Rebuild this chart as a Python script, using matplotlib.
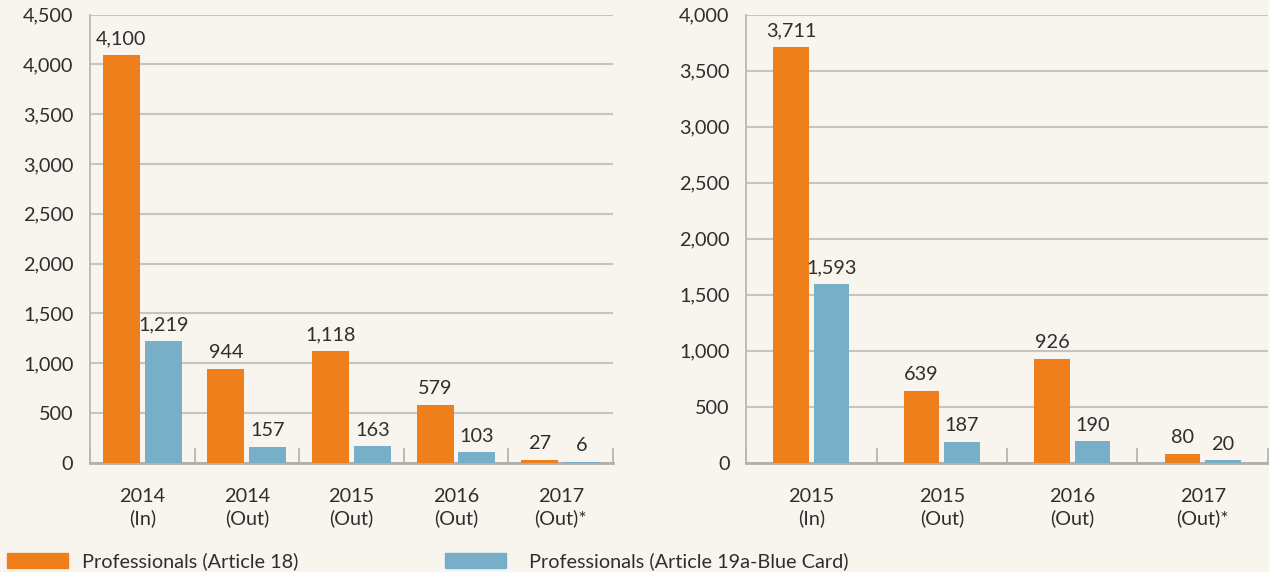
import numpy as np
import matplotlib.pyplot as plt
from matplotlib.patches import Patch

plt.rcParams['font.family'] = ['Lato', 'DejaVu Sans']

# left panel
left_cats = ['2014\n(In)', '2014\n(Out)', '2015\n(Out)', '2016\n(Out)', '2017\n(Out)*']
left_art18 = [4100, 944, 1118, 579, 27]
left_art19a = [1219, 157, 163, 103, 6]

# right panel
right_cats = ['2015\n(In)', '2015\n(Out)', '2016\n(Out)', '2017\n(Out)*']
right_art18 = [3711, 639, 926, 80]
right_art19a = [1593, 187, 190, 20]

orange = '#ee7f1a'
blue = '#79aec9'
bg = '#f8f5ee'
grid_col = '#c4c4c4'
text_col = '#2e2e2e'
fs = 14.3

fig = plt.figure(figsize=(12.69, 5.72), dpi=100, facecolor=bg)
ax1 = fig.add_axes([0.0709, 0.1911, 0.4121, 0.7832])
ax2 = fig.add_axes([0.5879, 0.1911, 0.4113, 0.7832])


def draw(ax, cats, a, b, ymax, width, off):
    x = np.arange(len(cats))
    ax.set_facecolor(bg)
    r1 = ax.bar(x - off, a, width, color=orange, zorder=3)
    r2 = ax.bar(x + off, b, width, color=blue, zorder=3)
    for rects, vals in ((r1, a), (r2, b)):
        for r, v in zip(rects, vals):
            ax.annotate(f'{v:,}', (r.get_x() + r.get_width() / 2, r.get_height()),
                        xytext=(0, 5.5), textcoords='offset points',
                        ha='center', va='bottom', fontsize=fs, color=text_col)
    ax.set_xlim(-0.5, len(cats) - 0.5)
    ax.set_ylim(0, ymax)
    ax.set_yticks(np.arange(0, ymax + 1, 500))
    ax.set_yticklabels([f'{int(t):,}' for t in np.arange(0, ymax + 1, 500)])
    ax.yaxis.grid(True, color=grid_col, linewidth=1.5, zorder=0)
    ax.set_axisbelow(True)
    ax.tick_params(axis='y', length=0, pad=12, labelsize=fs, labelcolor=text_col)
    # separators between groups as inward ticks, labels on minor ticks
    ax.set_xticks(np.arange(-0.5, len(cats), 1.0))
    ax.set_xticklabels([])
    ax.set_xticks(x, minor=True)
    ax.set_xticklabels(cats, minor=True, linespacing=1.3)
    ax.tick_params(axis='x', which='major', direction='in', length=11, width=1.2, color='#b0b0b0')
    ax.tick_params(axis='x', which='minor', length=0, pad=18, labelsize=fs, labelcolor=text_col)
    for s in ('top', 'right'):
        ax.spines[s].set_visible(False)
    ax.spines['left'].set_color('#b8b8b8')
    ax.spines['left'].set_linewidth(1.3)
    ax.spines['bottom'].set_color('#b0b0b0')
    ax.spines['bottom'].set_linewidth(2)


draw(ax1, left_cats, left_art18, left_art19a, 4500, 0.354, 0.2)
draw(ax2, right_cats, right_art18, right_art19a, 4000, 0.275, 0.155)

leg_kw = dict(frameon=False, fontsize=fs, handlelength=3.05, handleheight=0.78,
              borderpad=0, borderaxespad=0, labelcolor=text_col)
fig.legend(handles=[Patch(color=orange)], labels=['Professionals (Article 18)'],
           loc='lower left', bbox_to_anchor=(7 / 1269, 2 / 572),
           handletextpad=0.75, **leg_kw)
fig.legend(handles=[Patch(color=blue)], labels=['Professionals (Article 19a-Blue Card)'],
           loc='lower left', bbox_to_anchor=(445 / 1269, 2 / 572),
           handletextpad=1.18, **leg_kw)

fig.savefig('out.png', dpi=100, facecolor=bg)
